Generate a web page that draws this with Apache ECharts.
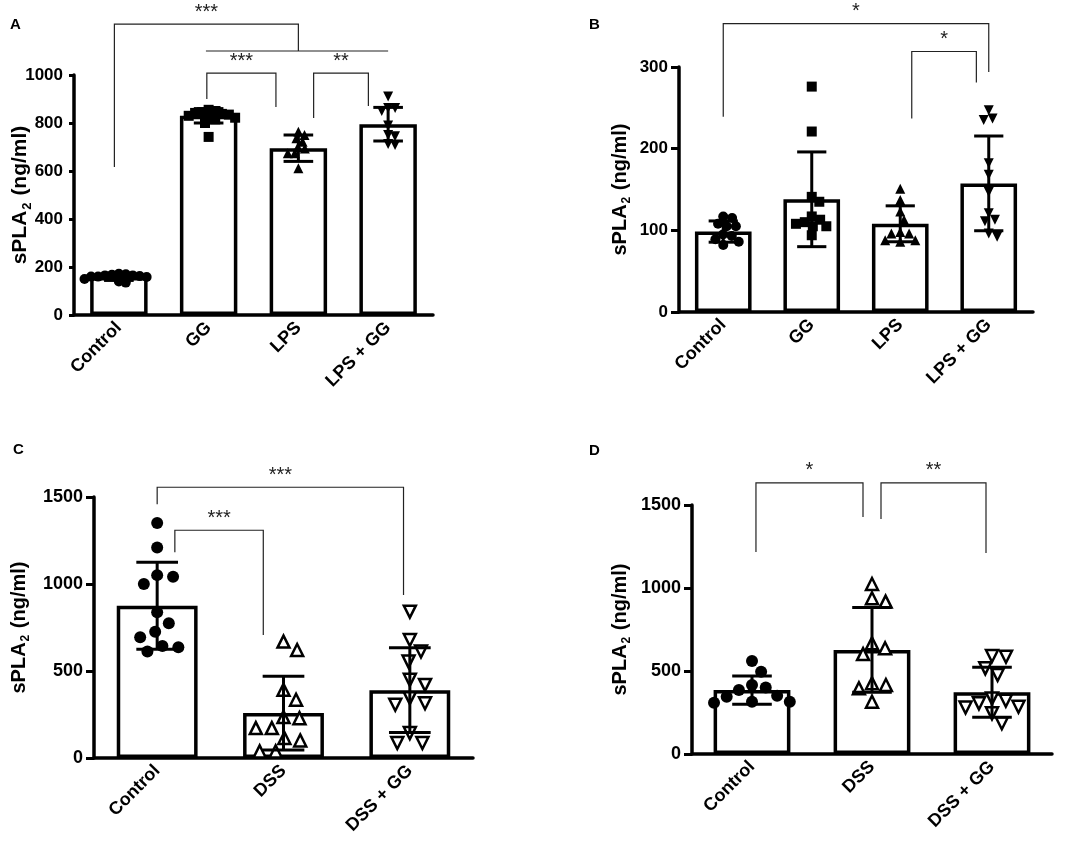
<!DOCTYPE html>
<html>
<head>
<meta charset="utf-8">
<script src="https://cdn.jsdelivr.net/npm/echarts@6/dist/echarts.min.js"></script>
<style>
html, body { margin: 0; padding: 0; background: #fff; }
#main { width: 1084px; height: 857px; }
</style>
</head>
<body>
<div id="main"></div>
<script>
// ---- data (sPLA2, ng/ml) ----
var catsAB = ['Control', 'GG', 'LPS', 'LPS + GG'];
var catsCD = ['Control', 'DSS', 'DSS + GG'];

var meanA = [158, 830, 695, 795];
var sdA = [14, 30, 55, 70];
var ptsA = [
  [168, 172, 165, 160, 162, 158, 170, 150, 135, 165, 160, 140],
  [855, 850, 845, 842, 838, 835, 830, 825, 822, 815, 800, 742],
  [764, 722, 736, 750, 674, 674, 611, 694, 700],
  [910, 862, 862, 850, 790, 750, 745, 712, 708]
];

var meanB = [98.5, 138, 108, 157.5];
var sdB = [13, 58, 22, 58];
var ptsB = [
  [108, 82, 95, 105, 89, 86, 115, 117, 105, 93],
  [276, 221, 141, 135, 117, 110, 94, 105, 105, 113, 108],
  [151, 137, 123, 113, 98, 88, 86, 88, 96, 96],
  [247, 235, 237, 182, 168, 147, 113, 111, 96, 121, 92]
];

var meanC = [875, 258, 390];
var sdC = [250, 212, 243];
var ptsC = [
  [1351, 1210, 1041, 1051, 1000, 837, 774, 726, 694, 644, 612, 636],
  [669, 621, 392, 335, 229, 235, 172, 172, 115, 101, 38, 38],
  [841, 678, 612, 554, 449, 420, 344, 315, 306, 143, 86, 86]
];

var meanD = [385, 627, 372];
var sdD = [85, 255, 150];
var ptsD = [
  [315, 351, 315, 386, 416, 400, 309, 345, 496, 560],
  [1024, 918, 938, 667, 637, 602, 426, 416, 396, 315],
  [586, 590, 516, 476, 321, 285, 335, 305, 245, 185, 280]
];

// significance brackets: [fromCat, toCat, top, leftEnd, rightEnd] in axis units
var bracketsA = [[-0.05, 2.0, 1212, 617, 1100], [0.97, 3.0, 1100, 1100, 1100],
                 [0.98, 1.75, 1008, 900, 867], [2.17, 2.78, 1008, 821, 871]];
var starsA = ['***', '', '***', '**'];
var bracketsB = [[0, 3.0, 353, 239, 294], [2.13, 2.86, 319, 237, 281]];
var starsB = ['*', '*'];
var bracketsC = [[0, 1.95, 1556, 1458, 937], [0.14, 0.84, 1309, 1183, 707]];
var starsC = ['***', '***'];
var bracketsD = [[0.033, 0.925, 1633, 1217, 1428], [1.075, 1.95, 1633, 1416, 1211]];
var starsD = ['*', '**'];

var FONT = '"Liberation Sans", Arial, sans-serif';

var panels = [
  { tag: 'A', cats: catsAB, mean: meanA, sd: sdA, pts: ptsA, br: bracketsA, stars: starsA,
    left: 74, top: 75, width: 359, height: 240, max: 1000, interval: 200,
    tick: 5, tickFont: 17, nameFont: 21, nameGap: 43, size: 10, gap: 7,
    sym: ['circle', 'rect', 'triangle', 'triangle'], open: false, letter: [10, 17] },
  { tag: 'B', cats: catsAB, mean: meanB, sd: sdB, pts: ptsB, br: bracketsB, stars: starsB,
    left: 679, top: 67, width: 354, height: 245, max: 300, interval: 100,
    tick: 8, tickFont: 17, nameFont: 20, nameGap: 49, size: 10, gap: 9,
    sym: ['circle', 'rect', 'triangle', 'triangle'], open: false, letter: [589, 17] },
  { tag: 'C', cats: catsCD, mean: meanC, sd: sdC, pts: ptsC, br: bracketsC, stars: starsC,
    left: 94, top: 497, width: 379, height: 261, max: 1500, interval: 500,
    tick: 8, tickFont: 18, nameFont: 20, nameGap: 65, size: 12, gap: 16,
    sym: ['circle', 'triangle', 'triangle'], open: true, letter: [13, 442] },
  { tag: 'D', cats: catsCD, mean: meanD, sd: sdD, pts: ptsD, br: bracketsD, stars: starsD,
    left: 692, top: 505, width: 360, height: 249, max: 1500, interval: 500,
    tick: 8, tickFont: 18, nameFont: 20, nameGap: 62, size: 12, gap: 14,
    sym: ['circle', 'triangle', 'triangle'], open: true, letter: [589, 443] }
];

// simple beeswarm: offsets in px so that points keep a minimum distance
function swarm(vals, pxPerUnit, d) {
  var order = vals.map(function (v, i) { return i; })
    .sort(function (a, b) { return vals[b] - vals[a]; });
  var placed = [], off = [];
  order.forEach(function (i) {
    var y = vals[i] * pxPerUnit;
    var cands = [0];
    placed.forEach(function (p) {
      var dy = Math.abs(p.y - y);
      if (dy < d) {
        var dx = Math.sqrt(d * d - dy * dy);
        cands.push(p.x + dx, p.x - dx);
      }
    });
    cands.sort(function (a, b) { return Math.abs(a) - Math.abs(b) || b - a; });
    for (var k = 0; k < cands.length; k++) {
      var x = cands[k];
      var ok = placed.every(function (p) {
        return (p.x - x) * (p.x - x) + (p.y - y) * (p.y - y) >= d * d - 0.01;
      });
      if (ok) { placed.push({ x: x, y: y }); off[i] = x; break; }
    }
  });
  return off;
}

function errRender(params, api) {
  var x = api.value(0), m = api.value(1), s = api.value(2);
  var top = api.coord([x, m + s]), bot = api.coord([x, m - s]);
  var half = api.size([1, 0])[0] * 0.165;
  var st = { stroke: '#000', lineWidth: 3 };
  return { type: 'group', children: [
    { type: 'line', shape: { x1: top[0], y1: top[1], x2: bot[0], y2: bot[1] }, style: st },
    { type: 'line', shape: { x1: top[0] - half, y1: top[1], x2: top[0] + half, y2: top[1] }, style: st },
    { type: 'line', shape: { x1: bot[0] - half, y1: bot[1], x2: bot[0] + half, y2: bot[1] }, style: st }
  ] };
}

function brRender(stars) {
  return function (params, api) {
    var a = api.value(0), b = api.value(1), t = api.value(2), l = api.value(3), r = api.value(4);
    var p1 = api.coord([a, l]), p2 = api.coord([a, t]), p3 = api.coord([b, t]), p4 = api.coord([b, r]);
    var ch = [{ type: 'polyline', shape: { points: [p1, p2, p3, p4] },
                style: { stroke: '#222', lineWidth: 1.2, fill: 'none' } }];
    var txt = stars[params.dataIndex];
    if (txt) {
      ch.push({ type: 'text', style: { text: txt, x: (p2[0] + p3[0]) / 2, y: p2[1] - 12,
        align: 'center', verticalAlign: 'middle', fontSize: 20, fontFamily: FONT, fill: '#222' } });
    }
    return { type: 'group', children: ch };
  };
}

var grid = [], xAxis = [], yAxis = [], series = [], graphic = [];

panels.forEach(function (p, g) {
  var n = p.cats.length;
  grid.push({ left: p.left, top: p.top, width: p.width, height: p.height });
  xAxis.push({
    type: 'category', gridIndex: g, data: p.cats,
    axisLine: { onZero: false, lineStyle: { color: '#000', width: 3.5 } },
    axisTick: { alignWithLabel: true, length: 7, lineStyle: { color: '#000', width: 3 } },
    axisLabel: { rotate: 45, interval: 0, margin: 10, color: '#000', fontWeight: 'bold',
                 fontSize: 18, fontFamily: FONT }
  });
  xAxis.push({ type: 'value', gridIndex: g, min: -0.5, max: n - 0.5, show: false });
  yAxis.push({
    type: 'value', gridIndex: g, min: 0, max: p.max, interval: p.interval,
    name: '{a|sPLA}{s|2}{a| (ng/ml)}', nameLocation: 'middle', nameRotate: 90, nameGap: p.nameGap,
    nameMoveOverlap: false,
    nameTextStyle: { rich: {
      a: { fontSize: p.nameFont, fontWeight: 'bold', fontFamily: FONT, color: '#000', lineHeight: 24, verticalAlign: 'bottom' },
      s: { fontSize: Math.round(p.nameFont * 0.62), fontWeight: 'bold', fontFamily: FONT, color: '#000', lineHeight: 24, verticalAlign: 'bottom', padding: [0, 1, -3, 1] }
    } },
    axisLine: { show: true, onZero: false, lineStyle: { color: '#000', width: 3.5 } },
    axisTick: { show: true, length: p.tick, lineStyle: { color: '#000', width: 3 } },
    axisLabel: { margin: 11, color: '#000', fontWeight: 'bold', fontSize: p.tickFont, fontFamily: FONT,
                 formatter: function (v) { return String(v); } },
    splitLine: { show: false }
  });

  var xi = g * 2, vxi = g * 2 + 1;
  series.push({
    type: 'bar', xAxisIndex: xi, yAxisIndex: g, data: p.mean, barWidth: '64%', z: 2,
    itemStyle: { color: '#fff', borderColor: '#000', borderWidth: 3.5 }, silent: true
  });

  var band = p.width / n, ppu = p.height / p.max;
  p.pts.forEach(function (vals, c) {
    var off = swarm(vals, ppu, p.gap);
    var isOpen = p.open && c > 0;
    series.push({
      type: 'scatter', xAxisIndex: vxi, yAxisIndex: g, z: 3, silent: true,
      symbol: p.sym[c], symbolSize: p.size,
      symbolRotate: (p.sym[c] === 'triangle' && c === n - 1) ? 180 : 0,
      itemStyle: isOpen ? { color: '#fff', borderColor: '#000', borderWidth: 2.5, opacity: 1 }
                        : { color: '#000', opacity: 1 },
      data: vals.map(function (v, i) { return [c + off[i] / band, v]; })
    });
  });

  series.push({
    type: 'custom', xAxisIndex: vxi, yAxisIndex: g, z: 4, silent: true,
    renderItem: errRender,
    data: p.mean.map(function (m, c) { return [c, m, p.sd[c]]; })
  });
  series.push({
    type: 'custom', xAxisIndex: vxi, yAxisIndex: g, z: 5, silent: true, clip: false,
    renderItem: brRender(p.stars), data: p.br
  });

  graphic.push({ type: 'text', left: p.letter[0], top: p.letter[1],
    style: { text: p.tag, fontSize: 15, fontWeight: 'bold', fontFamily: FONT, fill: '#000' } });
});

var myChart = echarts.init(document.getElementById('main'));
myChart.setOption({
  backgroundColor: '#fff',
  animation: false,
  grid: grid, xAxis: xAxis, yAxis: yAxis, series: series, graphic: graphic
});
</script>
</body>
</html>
